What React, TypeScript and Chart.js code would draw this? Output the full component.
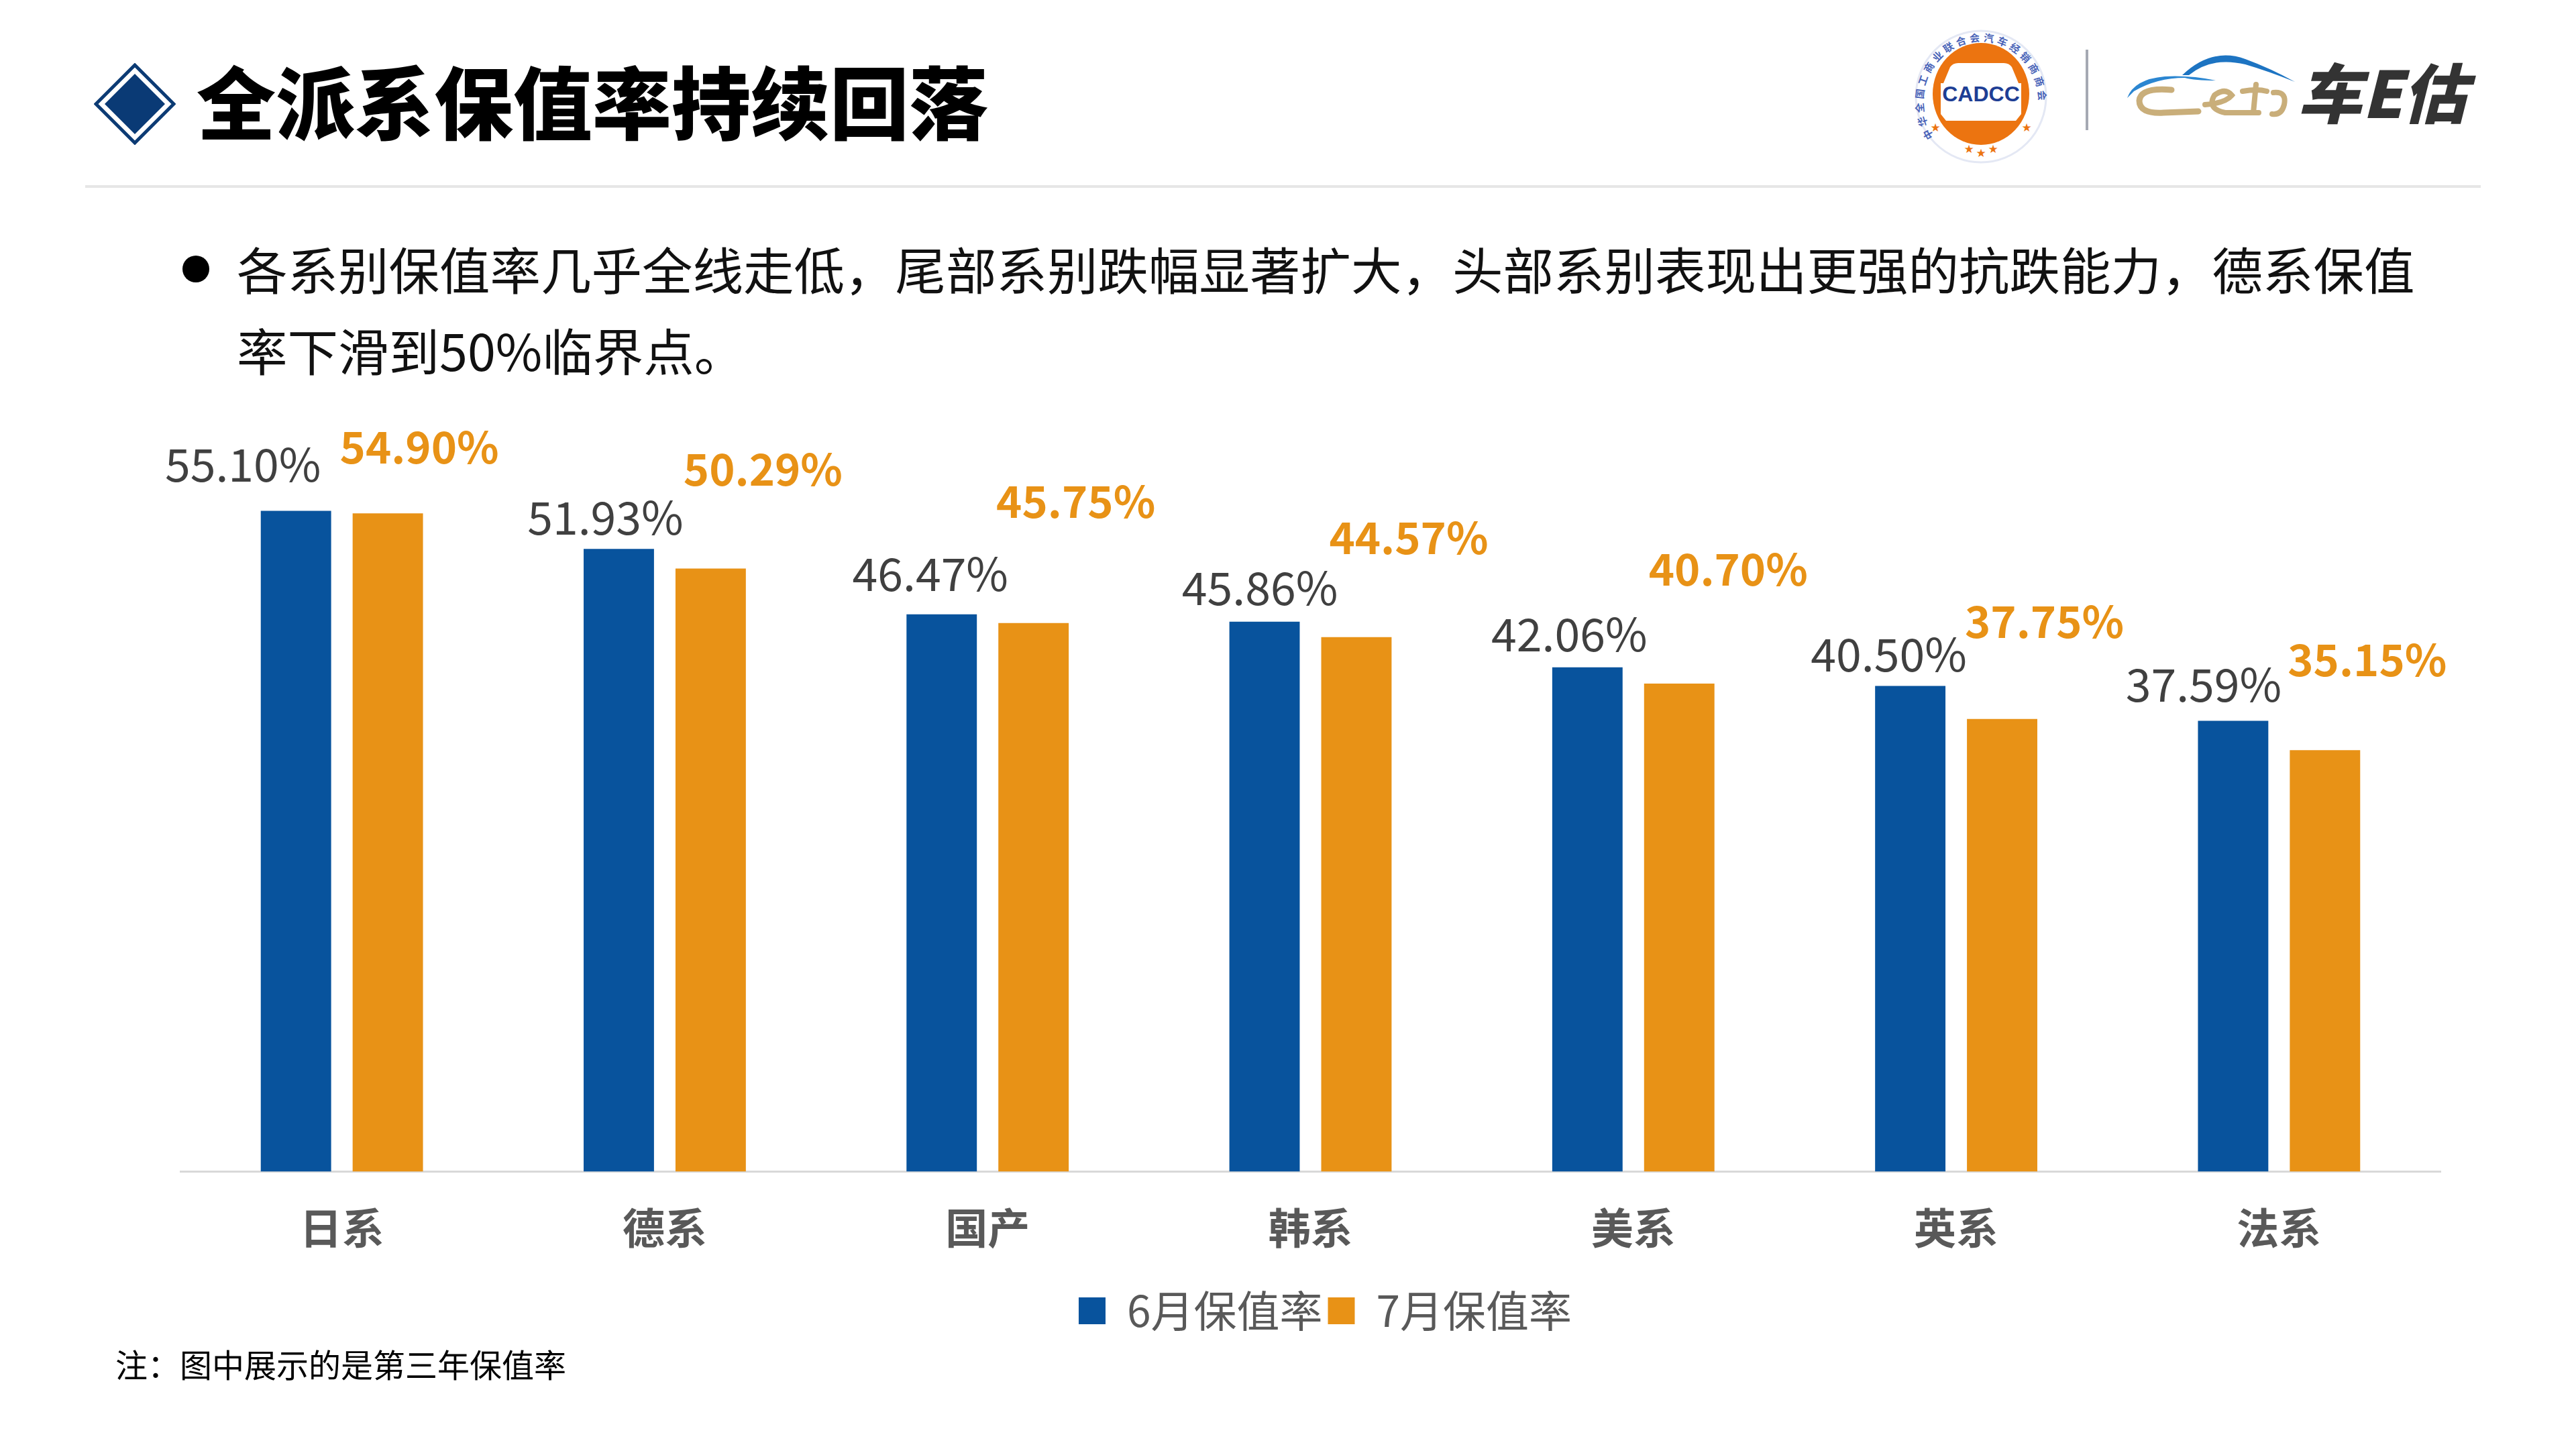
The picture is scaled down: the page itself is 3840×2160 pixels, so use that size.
import React, { useEffect, useRef } from 'react';
import { Chart, registerables } from 'chart.js';

Chart.register(...registerables);

// ---------- data ----------
const CATEGORIES = ['日系', '德系', '国产', '韩系', '美系', '英系', '法系'];
const JUNE_RATES = [55.1, 51.93, 46.47, 45.86, 42.06, 40.5, 37.59];
const JULY_RATES = [54.9, 50.29, 45.75, 44.57, 40.7, 37.75, 35.15];
const SERIES_NAMES = ['6月保值率', '7月保值率'];
const Y_MIN = 0;
const Y_MAX = 60;

const TITLE = '全派系保值率持续回落';
const BULLET_LINE_1 = '各系别保值率几乎全线走低，尾部系别跌幅显著扩大，头部系别表现出更强的抗跌能力，德系保值';
const BULLET_LINE_2 = '率下滑到50%临界点。';
const NOTE = '注：图中展示的是第三年保值率';

// ---------- styling (not data) ----------
const BLUE = '#08539D';
const ORANGE = '#E89216';
const FONT = '"Noto Sans CJK SC", "Noto Sans", sans-serif';
const LEGEND_SHIFT = 22;

// nudge of each value label relative to the top-centre of its bar, in px
const JUNE_LABEL_NUDGE = [
  [-79, -69], [-20, -47], [-17, -61], [-7, -51], [-27, -49], [-32, -47], [-44, -54],
];
const JULY_LABEL_NUDGE = [
  [47, -99], [78, -148], [63, -181], [78, -148], [73, -171], [63, -145], [63, -135],
];

const LABEL_STYLES = [
  { color: '#404040', weight: '400', size: 68, nudge: JUNE_LABEL_NUDGE },
  { color: ORANGE, weight: '700', size: 65, nudge: JULY_LABEL_NUDGE },
];

const valueLabelPlugin = {
  id: 'valueLabels',
  afterDatasetsDraw(chart: any) {
    const ctx = chart.ctx;
    chart.data.datasets.forEach((ds: any, di: number) => {
      const meta = chart.getDatasetMeta(di);
      const st = LABEL_STYLES[di];
      meta.data.forEach((bar: any, i: number) => {
        const v = ds.data[i] as number;
        const [dx, dy] = st.nudge[i];
        ctx.save();
        ctx.font = `${st.weight} ${st.size}px ${FONT}`;
        ctx.fillStyle = st.color;
        ctx.textAlign = 'center';
        ctx.textBaseline = 'middle';
        ctx.fillText(v.toFixed(2) + '%', bar.x + dx, bar.y + dy);
        ctx.restore();
      });
    });
  },
};

const legendShiftPlugin = {
  id: 'legendShift',
  afterLayout(chart: any) {
    const lg = chart.legend;
    if (lg) {
      lg.left += LEGEND_SHIFT;
      lg.right += LEGEND_SHIFT;
    }
  },
};

const CANVAS_TOP = 560;
const CANVAS_W = 3840;
const CANVAS_H = 1540;

function BarChart() {
  const ref = useRef<HTMLCanvasElement | null>(null);
  useEffect(() => {
    if (!ref.current) return;
    const chart = new Chart(ref.current, {
      type: 'bar',
      data: {
        labels: CATEGORIES,
        datasets: [
          {
            label: SERIES_NAMES[0],
            data: JUNE_RATES,
            backgroundColor: BLUE,
            categoryPercentage: 0.569,
            barPercentage: 0.766,
          },
          {
            label: SERIES_NAMES[1],
            data: JULY_RATES,
            backgroundColor: ORANGE,
            categoryPercentage: 0.569,
            barPercentage: 0.766,
          },
        ],
      },
      options: {
        animation: false,
        responsive: false,
        devicePixelRatio: 1,
        layout: { padding: { top: 114, left: 269, right: 202, bottom: 104 } },
        plugins: {
          legend: {
            display: true,
            position: 'bottom',
            labels: {
              boxWidth: 40,
              boxHeight: 40,
              padding: 8,
              color: '#595959',
              font: { family: FONT, size: 64, weight: '400' },
            },
          },
          tooltip: { enabled: false },
        },
        scales: {
          x: {
            grid: { display: false, drawTicks: false },
            border: { display: true, color: '#D9D9D9', width: 3 },
            ticks: {
              color: '#595959',
              padding: 46,
              font: { family: FONT, size: 63, weight: '700' },
            },
          },
          y: {
            display: false,
            min: Y_MIN,
            max: Y_MAX,
          },
        },
      },
      plugins: [valueLabelPlugin, legendShiftPlugin],
    } as any);
    return () => chart.destroy();
  }, []);
  return (
    <canvas
      ref={ref}
      width={CANVAS_W}
      height={CANVAS_H}
      style={{ position: 'absolute', left: 0, top: CANVAS_TOP, width: CANVAS_W, height: CANVAS_H }}
    />
  );
}

function CadccLogo() {
  const ring = '中华全国工商业联合会汽车经销商商会';
  return (
    <svg
      style={{ position: 'absolute', left: 2853, top: 44, width: 200, height: 200 }}
      viewBox="0 0 200 200"
    >
      <defs>
        <path id="cadccRing" d="M 30 160 A 86 90 0 1 1 170 160" />
      </defs>
      <ellipse cx="100" cy="100" rx="97" ry="98" fill="#ffffff" stroke="#e4e8f4" strokeWidth="3" />
      <text fontFamily={FONT} fontSize="15" fontWeight="700" fill="#4a64b8">
        <textPath href="#cadccRing" textLength="330" lengthAdjust="spacing">
          {ring}
        </textPath>
      </text>
      <ellipse cx="100" cy="96" rx="72" ry="76" fill="#EC7410" />
      <path
        d="M 44 80 L 54 56 Q 58 50 66 50 L 134 50 Q 142 50 146 56 L 156 80 L 160 80 L 160 126 L 152 136 L 48 136 L 40 126 L 40 80 Z"
        fill="#ffffff"
      />
      <text x="100" y="107" textAnchor="middle" fontFamily="'Liberation Sans', Arial, sans-serif" fontSize="32" fontWeight="700" fill="#1E3E94">
        CADCC
      </text>
      {[
        [32, 152],
        [168, 152],
        [82, 184],
        [100, 190],
        [118, 184],
      ].map(([x, y], i) => (
        <text key={i} x={x} y={y} textAnchor="middle" fontSize="17" fill="#EC7410" fontFamily="'DejaVu Sans', sans-serif">
          ★
        </text>
      ))}
    </svg>
  );
}

function CheLogo() {
  return (
    <svg
      style={{ position: 'absolute', left: 3167, top: 76, width: 530, height: 118 }}
      viewBox="0 0 530 118"
    >
      {/* blue roof swoosh */}
      <path
        d="M 4 70 Q 14 42 60 38 Q 98 36 136 44 Q 104 44 90 40 Q 48 40 14 60 Z"
        fill="#2B86D1"
      />
      <path
        d="M 86 36 Q 130 -6 180 12 Q 218 26 254 46 Q 214 30 180 20 Q 130 8 96 36 Z"
        fill="#1D74C2"
      />
      {/* gold script letters */}
      <path
        d="M 70 58 Q 24 54 22 74 Q 22 94 58 92 L 110 90"
        fill="none"
        stroke="#C9AE7A"
        strokeWidth="9"
        strokeLinecap="round"
      />
      <path
        d="M 120 80 Q 150 78 160 66 Q 150 54 134 66 Q 122 86 150 92 L 200 92 M 176 60 Q 198 56 212 60 M 196 50 L 192 92 M 222 62 Q 242 60 238 80 Q 234 96 220 94"
        fill="none"
        stroke="#C9AE7A"
        strokeWidth="8"
        strokeLinecap="round"
      />
      <text
        x="258"
        y="100"
        fontFamily={FONT}
        fontSize="96"
        fontWeight="900"
        fill="#333333"
        fontStyle="italic"
      >
        车E估
      </text>
    </svg>
  );
}

export default function App() {
  useEffect(() => {
    document.body.style.margin = '0';
    document.body.style.background = '#ffffff';
  }, []);
  return (
    <div
      style={{
        position: 'absolute',
        left: 0,
        top: 0,
        width: 3840,
        height: 2160,
        background: '#ffffff',
        overflow: 'hidden',
        fontFamily: FONT,
      }}
    >
      {/* title diamond */}
      <svg style={{ position: 'absolute', left: 140, top: 94, width: 122, height: 122 }} viewBox="0 0 122 122">
        <polygon points="61,3 119,61 61,119 3,61" fill="none" stroke="#0C3B74" strokeWidth="5" />
        <polygon points="61,16 106,61 61,106 16,61" fill="#0A3A75" />
      </svg>
      <div
        style={{
          position: 'absolute',
          left: 293,
          top: 89,
          fontSize: 118,
          lineHeight: '118px',
          fontWeight: 900,
          color: '#000000',
          whiteSpace: 'nowrap',
        }}
      >
        {TITLE}
      </div>

      <CadccLogo />
      <div style={{ position: 'absolute', left: 3109, top: 74, width: 4, height: 120, background: '#A5A9B3' }} />
      <CheLogo />

      {/* separator */}
      <div style={{ position: 'absolute', left: 127, top: 276, width: 3571, height: 4, background: '#E6E6E6' }} />

      {/* bullet */}
      <div style={{ position: 'absolute', left: 272, top: 381, width: 40, height: 40, borderRadius: 20, background: '#000' }} />
      <div
        style={{
          position: 'absolute',
          left: 353,
          top: 361,
          fontSize: 75.5,
          lineHeight: '76px',
          color: '#111111',
          whiteSpace: 'nowrap',
        }}
      >
        {BULLET_LINE_1}
      </div>
      <div
        style={{
          position: 'absolute',
          left: 353,
          top: 482,
          fontSize: 75.5,
          lineHeight: '76px',
          color: '#111111',
          whiteSpace: 'nowrap',
        }}
      >
        {BULLET_LINE_2}
      </div>

      <BarChart />

      <div
        style={{
          position: 'absolute',
          left: 172,
          top: 2008,
          fontSize: 48,
          lineHeight: '48px',
          color: '#000000',
          whiteSpace: 'nowrap',
        }}
      >
        {NOTE}
      </div>
    </div>
  );
}
